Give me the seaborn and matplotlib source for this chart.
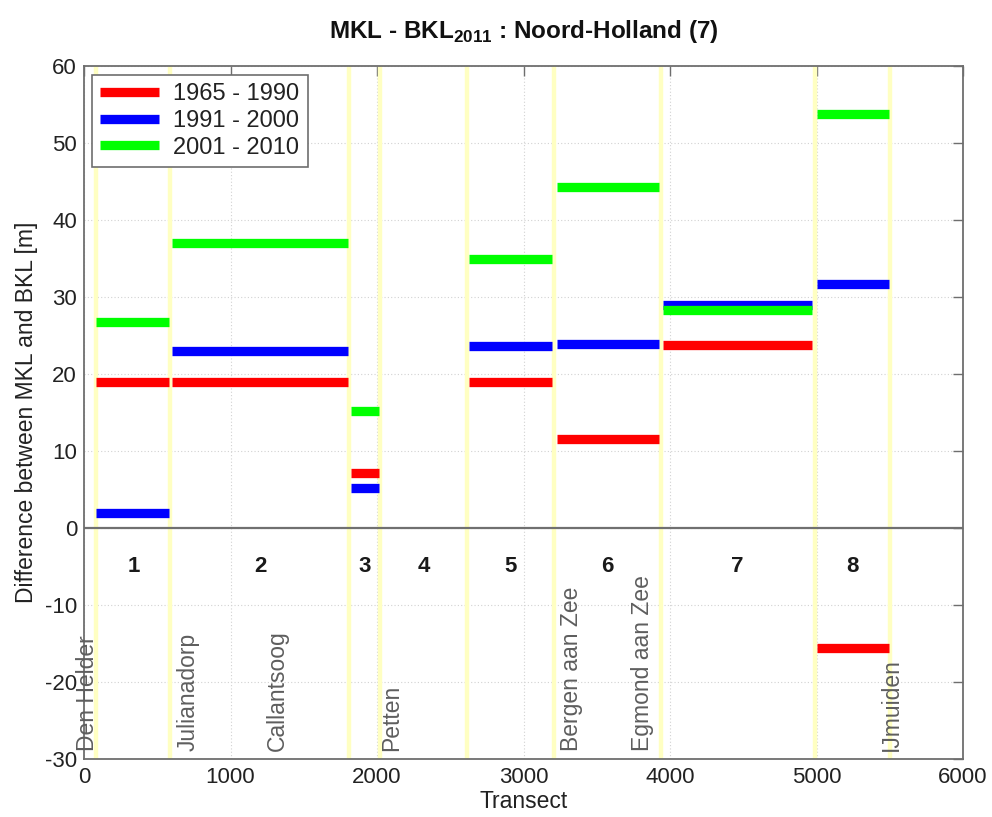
import numpy as np
import pandas as pd
import matplotlib
matplotlib.use("Agg")
import matplotlib.pyplot as plt
import seaborn as sns

# ---------------- data ----------------
periods = ["1965 - 1990", "1991 - 2000", "2001 - 2010"]
period_colors = ["#ff0000", "#0000ff", "#00ff00"]

# transect ranges of the plotted segments (sections 1,2,3,5,6,7,8)
seg_start = [85, 603, 1823, 2628, 3226, 3950, 5001]
seg_end = [582, 1804, 2016, 3197, 3925, 4972, 5497]

vals_1965_1990 = [19.0, 19.0, 7.2, 18.9, 11.6, 23.8, -15.6]
vals_1991_2000 = [2.0, 23.0, 5.2, 23.6, 23.9, 28.9, 31.7]
vals_2001_2010 = [26.7, 37.0, 15.2, 35.0, 44.3, 28.3, 53.8]

# section boundaries (yellow lines) and section labels
boundaries = [85, 590, 1812, 2020, 2614, 3211, 3937, 4987, 5500]
section_labels = ["1", "2", "3", "4", "5", "6", "7", "8"]

# places along the coast
place_names = ["Den Helder", "Julianadorp", "Callantsoog", "Petten",
               "Bergen aan Zee", "Egmond aan Zee", "IJmuiden"]
place_x = [27, 710, 1318, 2103, 3331, 3815, 5508]

# ---------------- build long table ----------------
rows = []
for p, vals in zip(periods, [vals_1965_1990, vals_1991_2000, vals_2001_2010]):
    for i, (s, e, v) in enumerate(zip(seg_start, seg_end, vals)):
        rows.append({"period": p, "seg": i, "x": s, "y": v})
        rows.append({"period": p, "seg": i, "x": e, "y": v})
df = pd.DataFrame(rows)

# ---------------- style ----------------
sns.set_theme(style="white")
plt.rcParams["font.family"] = ["Liberation Sans", "DejaVu Sans"]
plt.rcParams["mathtext.fontset"] = "custom"
plt.rcParams["mathtext.rm"] = "Liberation Sans"
plt.rcParams["mathtext.bf"] = "Liberation Sans:bold"
plt.rcParams["axes.unicode_minus"] = False

fig = plt.figure(figsize=(9.92, 8.17), dpi=100)
ax = fig.add_axes([84 / 992, 1 - 759 / 817, (963 - 84) / 992, (759 - 66) / 817])

ax.set_xlim(0, 6000)
ax.set_ylim(-30, 60)
ax.set_xticks(np.arange(0, 6001, 1000))
ax.set_yticks(np.arange(-30, 61, 10))

# grid
ax.grid(True, color="#d2d2d2", linestyle=(0, (1, 2)), linewidth=0.8)
ax.set_axisbelow(True)

# yellow section boundaries
for b in boundaries:
    ax.axvline(b, color="#ffffc2", linewidth=3.2, zorder=1)

# zero line
ax.axhline(0, color="#707070", linewidth=1.6, zorder=1.5)

# bars as thick line segments
sns.lineplot(data=df, x="x", y="y", hue="period", units="seg",
             estimator=None, sort=False, palette=period_colors,
             hue_order=periods, linewidth=6.7, solid_capstyle="butt",
             ax=ax, zorder=3)

# section numbers
for i, lab in enumerate(section_labels):
    xm = 0.5 * (boundaries[i] + boundaries[i + 1])
    ax.text(xm, -5.0, lab, ha="center", va="center", fontsize=16,
            fontweight="bold", color="#1a1a1a", zorder=4)

# place names
for name, px in zip(place_names, place_x):
    ax.text(px, -29.0, name, rotation=90, ha="center", va="bottom",
            fontsize=16.5, color="#5e5e5e", zorder=4)

# spines / ticks
for sp in ax.spines.values():
    sp.set_color("#6e6e6e")
    sp.set_linewidth(1.3)
ax.tick_params(direction="in", length=7, width=1.0, color="#6e6e6e",
               top=True, right=True, labelsize=16, labelcolor="#222222",
               pad=6)
ax.tick_params(axis="y", pad=5)

ax.set_xlabel("Transect", fontsize=16.5, color="#222222", labelpad=1)
ax.set_ylabel("Difference between MKL and BKL [m]", fontsize=16.5,
              color="#222222", labelpad=5)
ax.set_title(r"MKL - BKL$_{\mathbf{2011}}$ : Noord-Holland (7)",
             fontsize=17.5, fontweight="bold", color="#111111", pad=20)

# legend
handles, labels = ax.get_legend_handles_labels()
leg = ax.legend(handles, labels, loc="upper left",
                bbox_to_anchor=(0.009, 0.987), borderaxespad=0,
                fontsize=17, handlelength=2.5, handletextpad=0.6,
                labelspacing=0.2, borderpad=0.35, fancybox=False,
                framealpha=1, edgecolor="#6e6e6e")
leg.get_frame().set_linewidth(1.2)
for t in leg.get_texts():
    t.set_color("#222222")

fig.savefig("out.png", dpi=100)
